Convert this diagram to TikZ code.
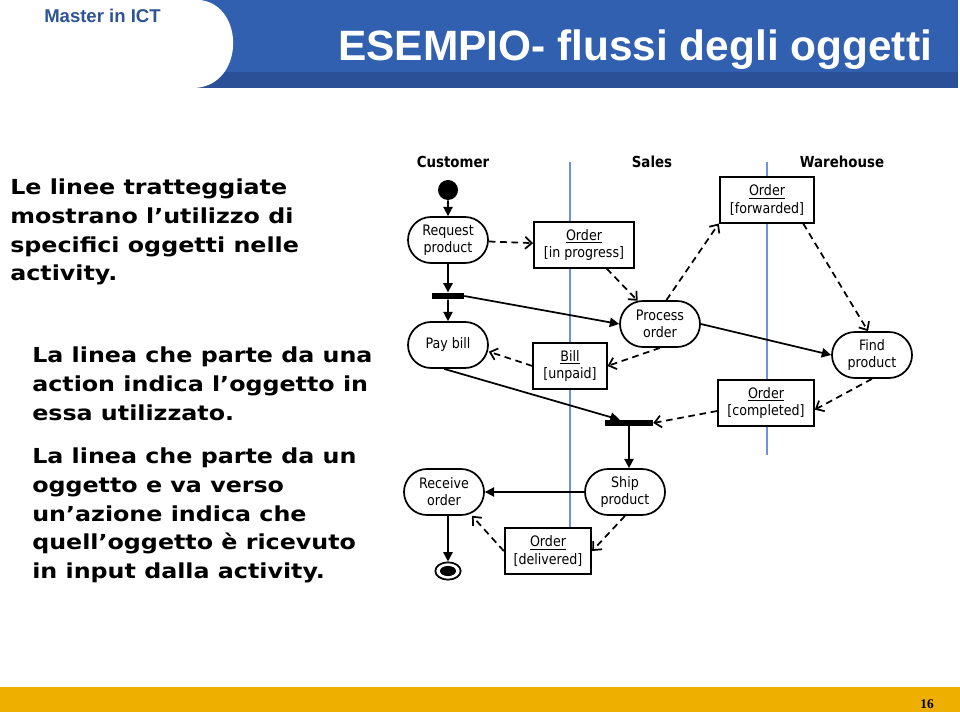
\documentclass[tikz,border=0pt]{standalone}
\usepackage{fontspec}
\usepackage{tikz}
\usetikzlibrary{arrows.meta, shapes.misc, shapes.geometric}

\setmainfont{Liberation Sans}
\newfontfamily\umlfont{DejaVu Sans}[FakeStretch=0.88]
\newfontfamily\notefont{DejaVu Sans}[FakeStretch=1.15]
\newfontfamily\pagefont{Liberation Serif}

\definecolor{headblue}{RGB}{50,96,176}
\definecolor{headdark}{RGB}{44,80,152}
\definecolor{masterblue}{RGB}{46,84,150}
\definecolor{laneblue}{RGB}{112,144,224}
\definecolor{footorange}{RGB}{238,175,0}

\begin{document}
\begin{tikzpicture}[x=0.75pt, y=-0.75pt,
    action/.style={draw, rounded rectangle, fill=white, line width=1.3pt,
        minimum width=62pt, minimum height=34.5pt, inner sep=1pt, align=center,
        font=\umlfont\fontsize{10.8}{12.8}\selectfont},
    object/.style={draw, rectangle, fill=white, line width=1.3pt,
        minimum height=34pt, inner sep=2pt, align=center,
        font=\umlfont\fontsize{10.8}{12.8}\selectfont},
    bar/.style={fill=black, inner sep=0pt},
    flow/.style={-{Triangle[length=7pt,width=7pt]}, line width=1.3pt},
    objflow/.style={-{Straight Barb[length=5pt,width=9pt]}, line width=1.3pt,
        dash pattern=on 5pt off 3.5pt},
    lane/.style={draw=laneblue, line width=1pt},
    lanehead/.style={font=\umlfont\bfseries\fontsize{11.4}{13}\selectfont},
    note/.style={anchor=north west, inner sep=0pt, align=left,
        font=\notefont\bfseries\fontsize{15.5}{21.5}\selectfont}
]
    \useasboundingbox (0,0) rectangle (960,712);

    % Header and footer
    \fill[headblue] (0,0) rectangle (958,72);
    \fill[headdark] (0,72) rectangle (958,88);
    \fill[white] (0,0) -- (200,0) .. controls (245,5) and (245,85) .. (195,88) -- (0,88) -- cycle;
    \node[anchor=base west, inner sep=0pt, text=masterblue,
        font=\bfseries\fontsize{13.9}{16}\selectfont] (master) at (44,23) {Master in ICT};
    \node[anchor=base west, inner sep=0pt, text=white,
        font=\bfseries\fontsize{31.8}{36}\selectfont] (title) at (338,61) {ESEMPIO- flussi degli oggetti};
    \fill[footorange] (0,687) rectangle (960,712);
    \node[font=\pagefont\bfseries\fontsize{10}{12}\selectfont] (pagenum) at (927,704) {16};

    % Notes
    \node[note] (note1) at (10,179) {Le linee tratteggiate\\mostrano l’utilizzo di\\specifici oggetti nelle\\activity.};
    \node[note] (note2) at (32,347) {La linea che parte da una\\action indica l’oggetto in\\essa utilizzato.};
    \node[note] (note3) at (32,448) {La linea che parte da un\\oggetto e va verso\\un’azione indica che\\quell’oggetto è ricevuto\\in input dalla activity.};

    % Swimlanes
    \node[lanehead] (customer) at (453,162) {Customer};
    \node[lanehead] (sales) at (652,162) {Sales};
    \node[lanehead] (warehouse) at (842,162) {Warehouse};
    \draw[lane] (570,162) -- (570,527);
    \draw[lane] (767,162) -- (767,455);

    % Nodes
    \node[circle, fill=black, inner sep=0pt, minimum size=15pt] (init) at (448,190) {};
    \node[action] (req) at (448,240) {Request\\product};
    \node[object, minimum width=75pt] (ordprog) at (584,245) {\underline{Order}\\{[in progress]}};
    \node[bar, minimum width=24pt, minimum height=5pt] (fork) at (448,296) {};
    \node[action] (proc) at (660,324) {Process\\order};
    \node[object, minimum width=71pt] (ordfwd) at (767,200) {\underline{Order}\\{[forwarded]}};
    \node[action] (find) at (872,355) {Find\\product};
    \node[action] (pay) at (448,345) {Pay bill};
    \node[object, minimum width=55pt] (bill) at (570,366) {\underline{Bill}\\{[unpaid]}};
    \node[object, minimum width=72pt] (ordcomp) at (766,403) {\underline{Order}\\{[completed]}};
    \node[bar, minimum width=36pt, minimum height=4.5pt] (join) at (629,423) {};
    \node[action] (ship) at (625,492) {Ship\\product};
    \node[action] (recv) at (444,492) {Receive\\order};
    \node[object, minimum width=65pt] (orddel) at (548,551) {\underline{Order}\\{[delivered]}};
    \node[ellipse, draw, fill=white, line width=1.3pt, inner sep=0pt,
        minimum width=19pt, minimum height=13pt] (final) at (448,571) {};
    \fill (final.center) ellipse [x radius=6pt, y radius=3.8pt];

    % Edges
    \draw[flow] (init) -- (req);
    \draw[objflow] (req) -- (ordprog);
    \draw[flow] (req) -- (fork);
    \draw[flow] (fork) -- (pay);
    \draw[flow] (fork.east) -- (proc.west);
    \draw[objflow] (ordprog) -- (proc);
    \draw[objflow] (proc.75) -- (ordfwd.south west);
    \draw[objflow] ([xshift=-9pt]ordfwd.south east) -- ([xshift=-3pt]find.north);
    \draw[flow] (proc.east) -- (find.west);
    \draw[objflow] (proc.south) -- (bill.east);
    \draw[objflow] (bill.west) -- ([yshift=-5pt]pay.east);
    \draw[flow] ([xshift=-3pt]pay.south) -- ([xshift=-7pt]join.north);
    \draw[objflow] (find.south) -- ([yshift=-5pt]ordcomp.east);
    \draw[objflow] ([yshift=-6pt]ordcomp.west) -- (join.east);
    \draw[flow] (join.south) -- (join.south |- ship.north);
    \draw[flow] (ship.west) -- (ship.west -| recv.east);
    \draw[objflow] (ship.south) -- (orddel.east);
    \draw[objflow] (orddel.west) -- ([xshift=21pt]recv.south);
    \draw[flow] (recv.south -| final) -- (final);
\end{tikzpicture}
\end{document}
